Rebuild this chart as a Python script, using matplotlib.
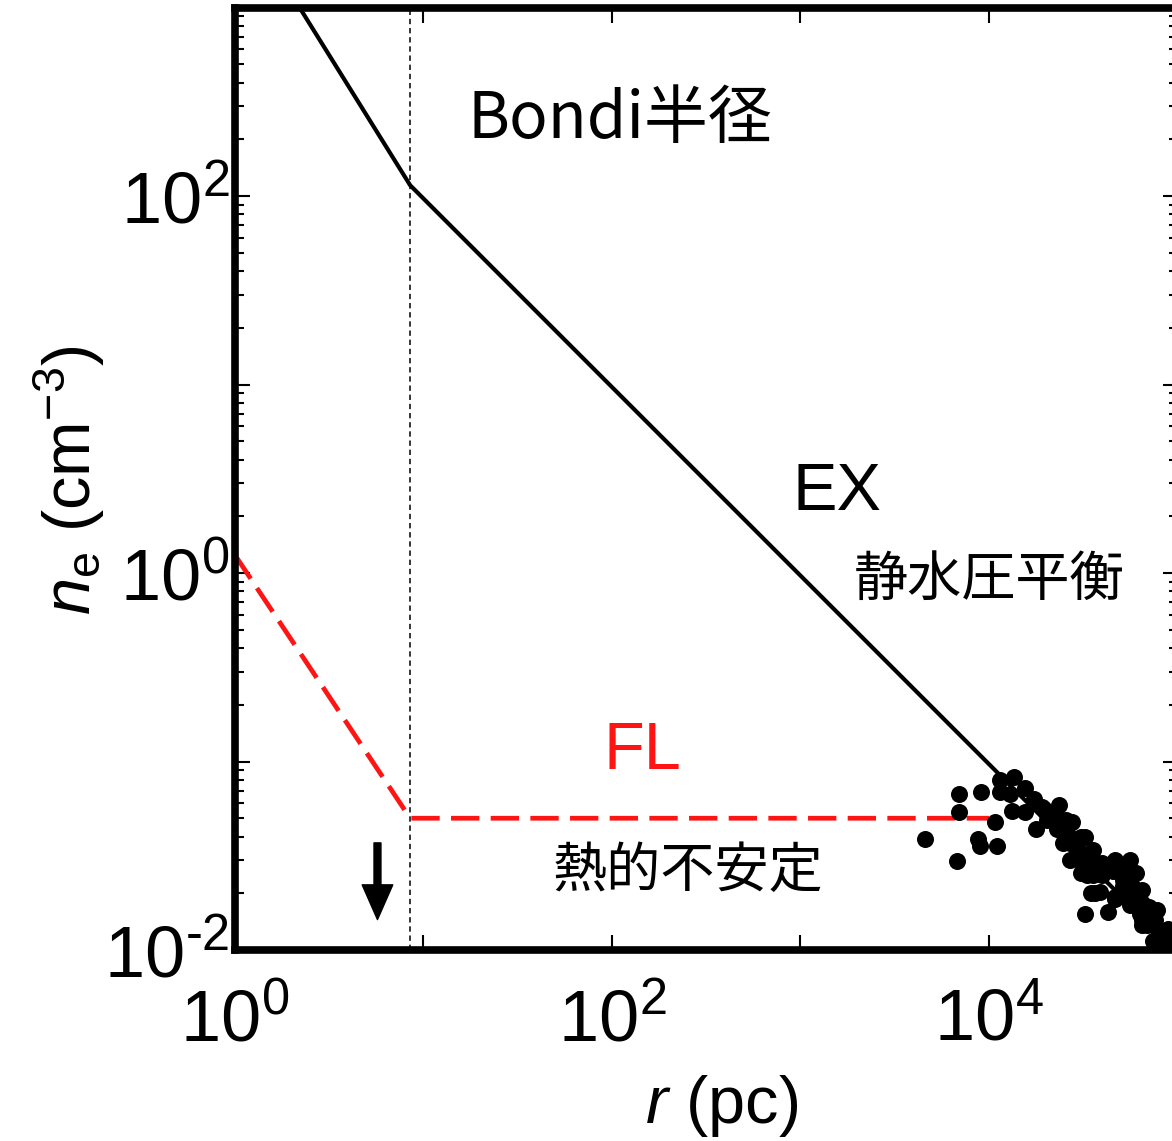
import numpy as np
import matplotlib
matplotlib.use('Agg')
import matplotlib.pyplot as plt
from matplotlib.ticker import NullFormatter

# fonts: Arial-like for numbers, Japanese gothic for the notes
plt.rcParams['font.family'] = ['Liberation Sans', 'Noto Sans CJK JP']
plt.rcParams['mathtext.fontset'] = 'custom'
plt.rcParams['mathtext.rm'] = 'Liberation Sans'
plt.rcParams['mathtext.it'] = 'Liberation Sans:italic'

# EX model (hydrostatic equilibrium), r in pc, n_e in cm^-3
ex_r = [2.2, 8.5, 8.8e4]
ex_n = [1000.0, 114.0, 0.011]

# FL model (thermal instability)
fl_r = [1.0, 8.5, 1.0e4]
fl_n = [1.245, 0.050, 0.050]

# Bondi radius and the upper-limit arrow
bondi_r = 8.5
arrow_r = 5.7
arrow_n = [0.037, 0.0145]

# observed points (log10 r, log10 n_e)
obs_log_r = [3.66, 3.84, 3.84, 3.83, 3.96, 3.94, 3.95, 4.04, 4.03, 4.06, 4.06, 4.13,
             4.11, 4.12, 4.19, 4.19, 4.24, 4.25, 4.28, 4.51, 4.63, 4.56,
             4.29, 4.34, 4.38, 4.44, 4.43, 4.49, 4.46, 4.50, 4.52, 4.54,
             4.51, 4.53, 4.55, 4.59, 4.67, 4.72, 4.76, 4.71, 4.78, 4.81,
             4.75, 4.80, 4.85, 4.87, 4.81, 4.90, 4.94, 4.92, 4.96, 4.60,
             4.67, 4.62, 4.30, 4.35, 4.41, 4.39, 4.46, 4.43, 4.50, 4.49,
             4.53, 4.60, 4.67, 4.75, 4.78, 4.71, 4.67, 4.78, 4.85, 4.81,
             4.88, 4.92,
             4.31, 4.36, 4.42, 4.47, 4.55, 4.57, 4.66, 4.71, 4.76, 4.81,
             4.84, 4.89, 4.95, 4.87, 4.37]
obs_log_n = [-1.41, -1.17, -1.27, -1.53, -1.16, -1.41, -1.45, -1.45, -1.32, -1.10, -1.16, -1.08,
             -1.17, -1.26, -1.14, -1.27, -1.20, -1.36, -1.24, -1.81, -1.80, -1.70,
             -1.25, -1.28, -1.31, -1.32, -1.43, -1.40, -1.50, -1.55, -1.60, -1.70,
             -1.40, -1.51, -1.60, -1.69, -1.53, -1.55, -1.60, -1.66, -1.69, -1.75,
             -1.76, -1.81, -1.80, -1.87, -1.87, -1.91, -1.94, -1.97, -1.98, -1.60,
             -1.72, -1.55, -1.27, -1.28, -1.31, -1.43, -1.45, -1.52, -1.51, -1.59,
             -1.58, -1.54, -1.52, -1.52, -1.59, -1.63, -1.73, -1.73, -1.77, -1.84,
             -1.84, -1.91,
             -1.31, -1.36, -1.39, -1.47, -1.47, -1.55, -1.58, -1.71, -1.66, -1.68,
             -1.87, -1.79, -1.89, -1.95, -1.23]

# axis ticks, only every other decade is labelled
x_major = [1, 10, 100, 1e3, 1e4, 1e5]
x_labels = ['$10^{0}$', '', '$10^{2}$', '', '$10^{4}$', '']
y_major = [1e-2, 0.1, 1, 10, 100, 1e3]
y_labels = [r'$10^{\text{-}2}$', '', '$10^{0}$', '', '$10^{2}$', '']

fig = plt.figure(figsize=(11.72, 11.41), dpi=100)
ax = fig.add_axes([0.2005, 0.1674, 0.8042, 0.8260])
ax.set_xscale('log')
ax.set_yscale('log')
ax.set_xlim(1, 1e5)
ax.set_ylim(1e-2, 1e3)

ax.plot(ex_r, ex_n, color='black', lw=3.0, zorder=2)
ax.plot(fl_r, fl_n, color='#ff1414', lw=3.4, dashes=(6, 2.4), zorder=2)
ax.axvline(bondi_r, color='black', lw=1.1, ls=(0, (3.5, 2.5)), zorder=1)
ax.scatter(10 ** np.array(obs_log_r), 10 ** np.array(obs_log_n), s=150,
           color='black', linewidths=0, zorder=3)
ax.annotate('', xy=(arrow_r, arrow_n[1]), xytext=(arrow_r, arrow_n[0]),
            arrowprops=dict(facecolor='black', edgecolor='black', width=5,
                            headwidth=22, headlength=25, shrink=0))

# notes
ax.text(0.4085, 0.8806, 'Bondi半径', transform=ax.transAxes, ha='center', va='center',
        fontsize=46, family=['Noto Sans CJK JP'])
ax.text(0.6387, 0.4849, 'EX', transform=ax.transAxes, ha='center', va='center', fontsize=48)
ax.text(0.800, 0.3926, '静水圧平衡', transform=ax.transAxes, ha='center', va='center',
        fontsize=39, family=['Noto Sans CJK JP'])
ax.text(0.4318, 0.2101, 'FL', transform=ax.transAxes, ha='center', va='center',
        fontsize=48, color='#ff1414')
ax.text(0.4806, 0.0838, '熱的不安定', transform=ax.transAxes, ha='center', va='center',
        fontsize=39, family=['Noto Sans CJK JP'])

# axes styling
ax.set_xticks(x_major)
ax.set_xticklabels(x_labels)
ax.set_yticks(y_major)
ax.set_yticklabels(y_labels)
ax.xaxis.set_minor_formatter(NullFormatter())
ax.yaxis.set_minor_formatter(NullFormatter())
ax.tick_params(which='both', direction='in', top=True, right=True, width=1.5)
ax.tick_params(which='major', length=11, labelsize=52)
ax.tick_params(which='minor', length=6.5)
ax.tick_params(axis='x', which='major', pad=27)
ax.tick_params(axis='y', which='major', pad=4)
for sp in ax.spines.values():
    sp.set_linewidth(5.5)

ax.set_xlabel('$r$ (pc)', fontsize=48)
ax.set_ylabel(r'$n_{\rm e}$ (cm$^{-3}$)', fontsize=48)
ax.xaxis.set_label_coords(0.5167, -0.13)
ax.yaxis.set_label_coords(-0.136, 0.4987)

fig.savefig('out.png', dpi=100)
